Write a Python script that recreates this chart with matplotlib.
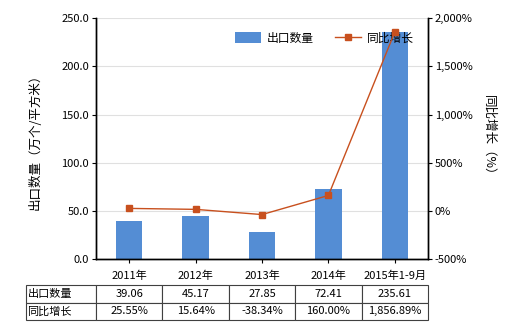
import matplotlib
matplotlib.use("Agg")
from matplotlib import pyplot as plt
from matplotlib.ticker import FuncFormatter

plt.rcParams['font.family'] = ['Noto Sans CJK SC', 'DejaVu Sans']
plt.rcParams['axes.unicode_minus'] = False

categories = ['2011年', '2012年', '2013年', '2014年', '2015年1-9月']
export_qty = [39.06, 45.17, 27.85, 72.41, 235.61]
yoy_growth = [25.55, 15.64, -38.34, 160.00, 1856.89]
qty_labels = ['39.06', '45.17', '27.85', '72.41', '235.61']
growth_labels = ['25.55%', '15.64%', '-38.34%', '160.00%', '1,856.89%']

bar_color = '#548DD4'
line_color = '#C8501E'

fig = plt.figure(figsize=(5.2, 3.3), dpi=100)
ax = fig.add_axes([0.1846, 0.215, 0.6385, 0.730])
ax2 = ax.twinx()

x = range(len(categories))
bars = ax.bar(x, export_qty, width=0.4, color=bar_color, zorder=2, label='出口数量')
line, = ax2.plot(x, yoy_growth, color=line_color, lw=1.0, marker='s', markersize=4,
                 zorder=3, label='同比增长')

ax.set_xlim(-0.5, len(categories) - 0.5)
ax.set_ylim(0, 250)
ax.set_yticks([0, 50, 100, 150, 200, 250])
ax.yaxis.set_major_formatter(FuncFormatter(lambda v, p: f'{v:.1f}'))
ax2.set_ylim(-500, 2000)
ax2.set_yticks([-500, 0, 500, 1000, 1500, 2000])
ax2.yaxis.set_major_formatter(FuncFormatter(lambda v, p: f'{v:,.0f}%'))

ax.grid(axis='y', color='#E0E0E0', lw=0.8, zorder=0)
ax.set_axisbelow(True)
ax.set_xticks(list(x))
ax.set_xticklabels(categories)

for a in (ax, ax2):
    a.spines['top'].set_visible(False)
    for s in ('left', 'right', 'bottom'):
        a.spines[s].set_color('black')
        a.spines[s].set_linewidth(1.0)
    a.tick_params(labelsize=8, length=3, width=0.8, colors='black', pad=2)
ax.tick_params(axis='x', pad=5)

ax.set_ylabel('出口数量（万个/平方米）', fontsize=9, labelpad=14)
ax2.set_ylabel('同比增长（%）', fontsize=9, rotation=-90, labelpad=16)

ax.legend([bars, line], ['出口数量', '同比增长'], loc='center right', bbox_to_anchor=(0.99, 0.917),
          ncol=2, frameon=False, fontsize=8.5, handlelength=2.2, handleheight=1.0,
          columnspacing=1.8, handletextpad=0.5)

# data table below the axes
n = len(categories)
label_w = 70 / 332
col_w = 1.0 / n
tbl = ax.table(cellText=[['出口数量'] + qty_labels, ['同比增长'] + growth_labels],
               colWidths=[label_w] + [col_w] * n,
               bbox=[-label_w, -0.253, 1.0 + label_w, 0.145],
               cellLoc='center')
tbl.auto_set_font_size(False)
for (r, c), cell in tbl.get_celld().items():
    cell.set_edgecolor('#404040')
    cell.set_linewidth(0.8)
    cell.get_text().set_fontsize(8)
    if c == 0:
        cell.get_text().set_ha('left')
        cell._loc = 'left'
        cell.PAD = 0.02

fig.savefig('out.png', dpi=100)
